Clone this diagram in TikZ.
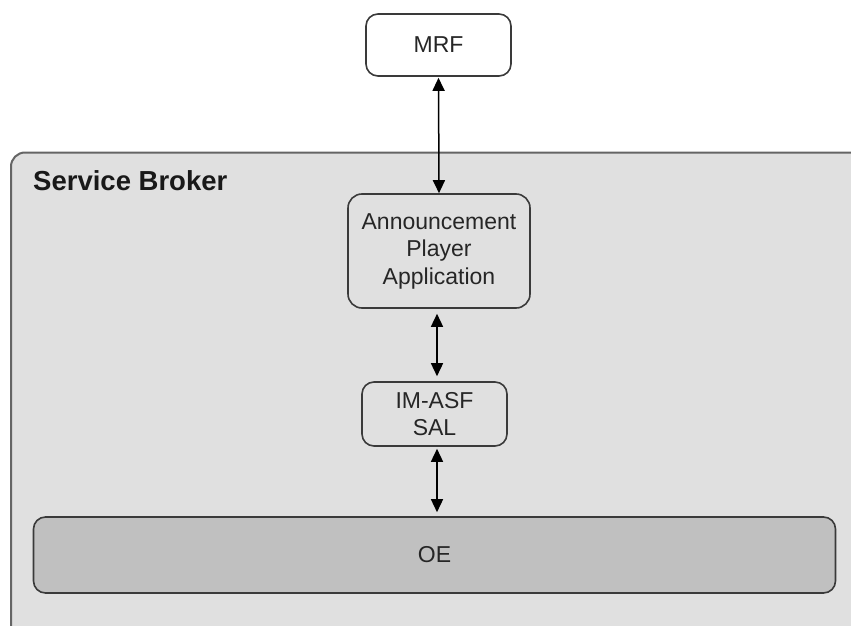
\documentclass[tikz,border=0pt]{standalone}
\usepackage{fontspec}
\setmainfont{Liberation Sans}
\usetikzlibrary{arrows.meta}
\definecolor{panelgrey}{HTML}{E0E0E0}
\definecolor{basegrey}{HTML}{C0C0C0}
\definecolor{edgegrey}{HTML}{3A3A3A}
\definecolor{frameedge}{HTML}{656565}
\tikzset{
  box/.style={draw=edgegrey, line width=1.6pt, rounded corners=12pt, align=center,
    inner sep=0pt, font=\fontsize{23}{27.5}\selectfont, text=black!85},
  tip/.tip={Triangle[length=13pt,width=12pt]},
  link/.style={line width=1.5pt, tip-tip},
}
\begin{document}
\begin{tikzpicture}[x=1pt, y=-1pt]
  \useasboundingbox (0,0) rectangle (851,626);
  \clip (0,0) rectangle (851,626);
  % outer service broker panel (runs off the right and bottom edges)
  \draw[draw=frameedge, line width=2pt, fill=panelgrey, rounded corners=14pt]
    (11,152.5) rectangle (880,660);
  \node[anchor=west, inner sep=0pt, font=\bfseries\fontsize{27.5}{30}\selectfont, text=black!90]
    (sb) at (33,181) {Service Broker};
  % components
  \node[box, fill=white, minimum width=145pt, minimum height=62pt] (mrf) at (438.5,45) {MRF};
  \node[box, fill=panelgrey, minimum width=182pt, minimum height=114pt, rounded corners=14pt]
    (ap) at (439,251) {Announcement\\Player\\Application};
  \node[box, fill=panelgrey, minimum width=145pt, minimum height=64pt] (im) at (434.5,414) {IM-ASF\\SAL};
  \node[box, fill=basegrey, minimum width=802pt, minimum height=76pt] (oe) at (434.5,555) {OE};
  % connections
  \draw[link, shorten <=1pt] (mrf.south) -- (ap.north);
  \draw[link, shorten <=5pt, shorten >=5pt] ([xshift=-2pt]ap.south) -- ([xshift=2.5pt]im.north);
  \draw[link, shorten <=2pt, shorten >=4pt] ([xshift=2.5pt]im.south) -- ([xshift=2.5pt]im.south |- oe.north);
\end{tikzpicture}
\end{document}
